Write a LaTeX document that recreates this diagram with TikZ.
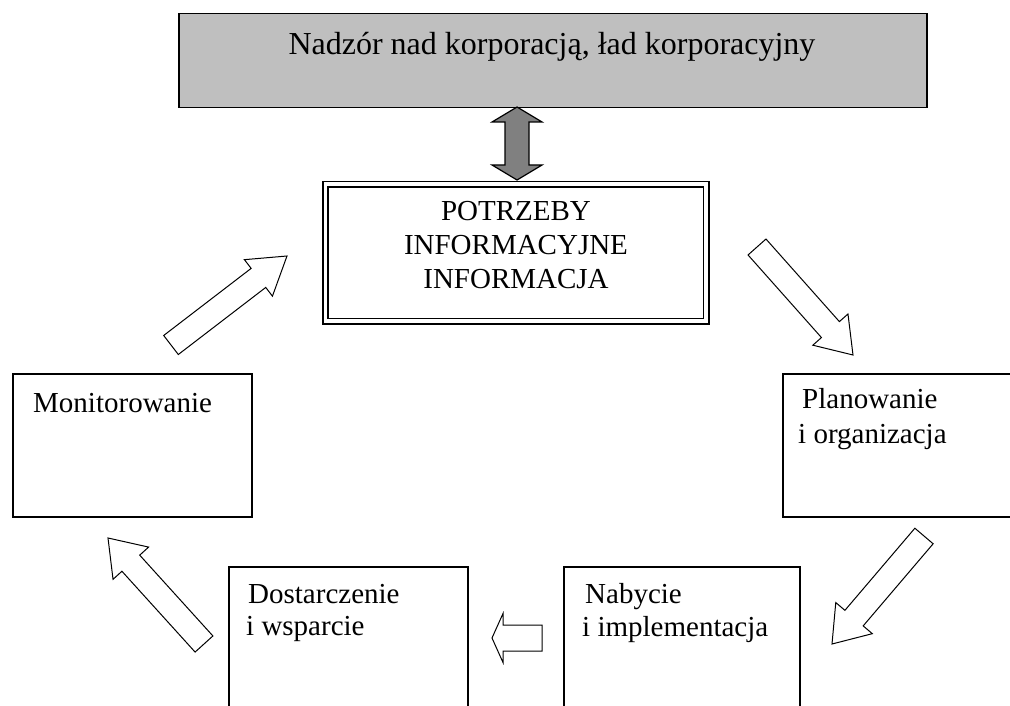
\documentclass[tikz,border=0pt]{standalone}
\usepackage{fontspec}
\setmainfont{Liberation Serif}
\usetikzlibrary{calc}
\newcommand\blockarr[6]{% name, tail, tip, shaft half, head half, head length
  \coordinate (#1-hb) at ($(#3)!#6!(#2)$);
  \draw[barrow] ($(#2)!#4!90:(#3)$) -- ($(#1-hb)!#4!90:(#3)$) -- ($(#1-hb)!#5!90:(#3)$) -- (#3)
    -- ($(#1-hb)!#5!-90:(#3)$) -- ($(#1-hb)!#4!-90:(#3)$) -- ($(#2)!#4!-90:(#3)$) -- cycle;
}
\begin{document}
\begin{tikzpicture}[x=1pt,y=-1pt,
  box/.style={draw=black, line width=1.5pt, inner sep=0pt},
  lbl/.style={anchor=base west, inner sep=0pt, font=\fontsize{29}{34}\selectfont},
  clbl/.style={anchor=base, inner sep=0pt, font=\fontsize{29}{34}\selectfont},
  barrow/.style={draw=black, line width=1pt, fill=white, line join=miter},
  dblarrow/.style={draw=black, line width=1.2pt, fill=black!50, line join=miter},
]
\useasboundingbox (0,0) rectangle (1010,706);
\fill[white] (0,0) rectangle (1010,706);

% top box
\node[box, fill=black!25, minimum width=748pt, minimum height=94pt, anchor=north west] (top) at (178,13) {};
\node[anchor=base, inner sep=0pt, font=\fontsize{32}{36}\selectfont] (toptext) at (552,55) {Nadzór nad korporacją, ład korporacyjny};

% centre box (double border)
\node[box, minimum width=386pt, minimum height=142pt, anchor=north west] (need) at (322,181) {};
\draw[line width=1.5pt] ($(need.north west)+(6,6)$) rectangle ($(need.south east)+(-6,-6)$);
\node[clbl] (need1) at (516,220) {POTRZEBY};
\node[clbl] (need2) at (516,254) {INFORMACYJNE};
\node[clbl] (need3) at (516,288) {INFORMACJA};

% double arrow
\coordinate (d1) at (517,107);
\coordinate (d2) at (517,180);
\draw[dblarrow] (d1) -- ($(d1)+(25,15)$) -- ($(d1)+(12,15)$) -- ($(d2)+(12,-15)$) -- ($(d2)+(25,-15)$) -- (d2)
  -- ($(d2)+(-25,-15)$) -- ($(d2)+(-12,-15)$) -- ($(d1)+(-12,15)$) -- ($(d1)+(-25,15)$) -- cycle;

% side boxes
\node[box, minimum width=239pt, minimum height=143pt, anchor=north west] (mon) at (12,373) {};
\node[lbl] (montext) at (33,412) {Monitorowanie};

\node[box, minimum width=240pt, minimum height=143pt, anchor=north west] (plan) at (782,373) {};
\node[lbl] (plan1) at (802,408) {Planowanie};
\node[lbl] (plan2) at (798,443) {i organizacja};

\node[box, minimum width=236pt, minimum height=160pt, anchor=north west] (nab) at (563,566) {};
\node[lbl] (nab1) at (585,603) {Nabycie};
\node[lbl] (nab2) at (582,636) {i implementacja};

\node[box, minimum width=239pt, minimum height=160pt, anchor=north west] (dos) at (228,566) {};
\node[lbl] (dos1) at (248,603) {Dostarczenie};
\node[lbl] (dos2) at (246,635) {i wsparcie};

% block arrows
\coordinate (a1t) at (171,345);   \coordinate (a1h) at (287,256);
\coordinate (a2t) at (757,247);   \coordinate (a2h) at (853,355);
\coordinate (a3t) at (924,536);   \coordinate (a3h) at (832,644);
\coordinate (a4t) at (204,644);   \coordinate (a4h) at (108,538);
\coordinate (a5t) at (542,638);   \coordinate (a5h) at (492,638);
\blockarr{a1}{a1t}{a1h}{12pt}{23pt}{36pt}
\blockarr{a2}{a2t}{a2h}{12pt}{23.5pt}{34pt}
\blockarr{a3}{a3t}{a3h}{12pt}{24pt}{34pt}
\blockarr{a4}{a4t}{a4h}{12pt}{24pt}{34pt}
\blockarr{a5}{a5t}{a5h}{13pt}{24.5pt}{11pt}
\end{tikzpicture}
\end{document}
